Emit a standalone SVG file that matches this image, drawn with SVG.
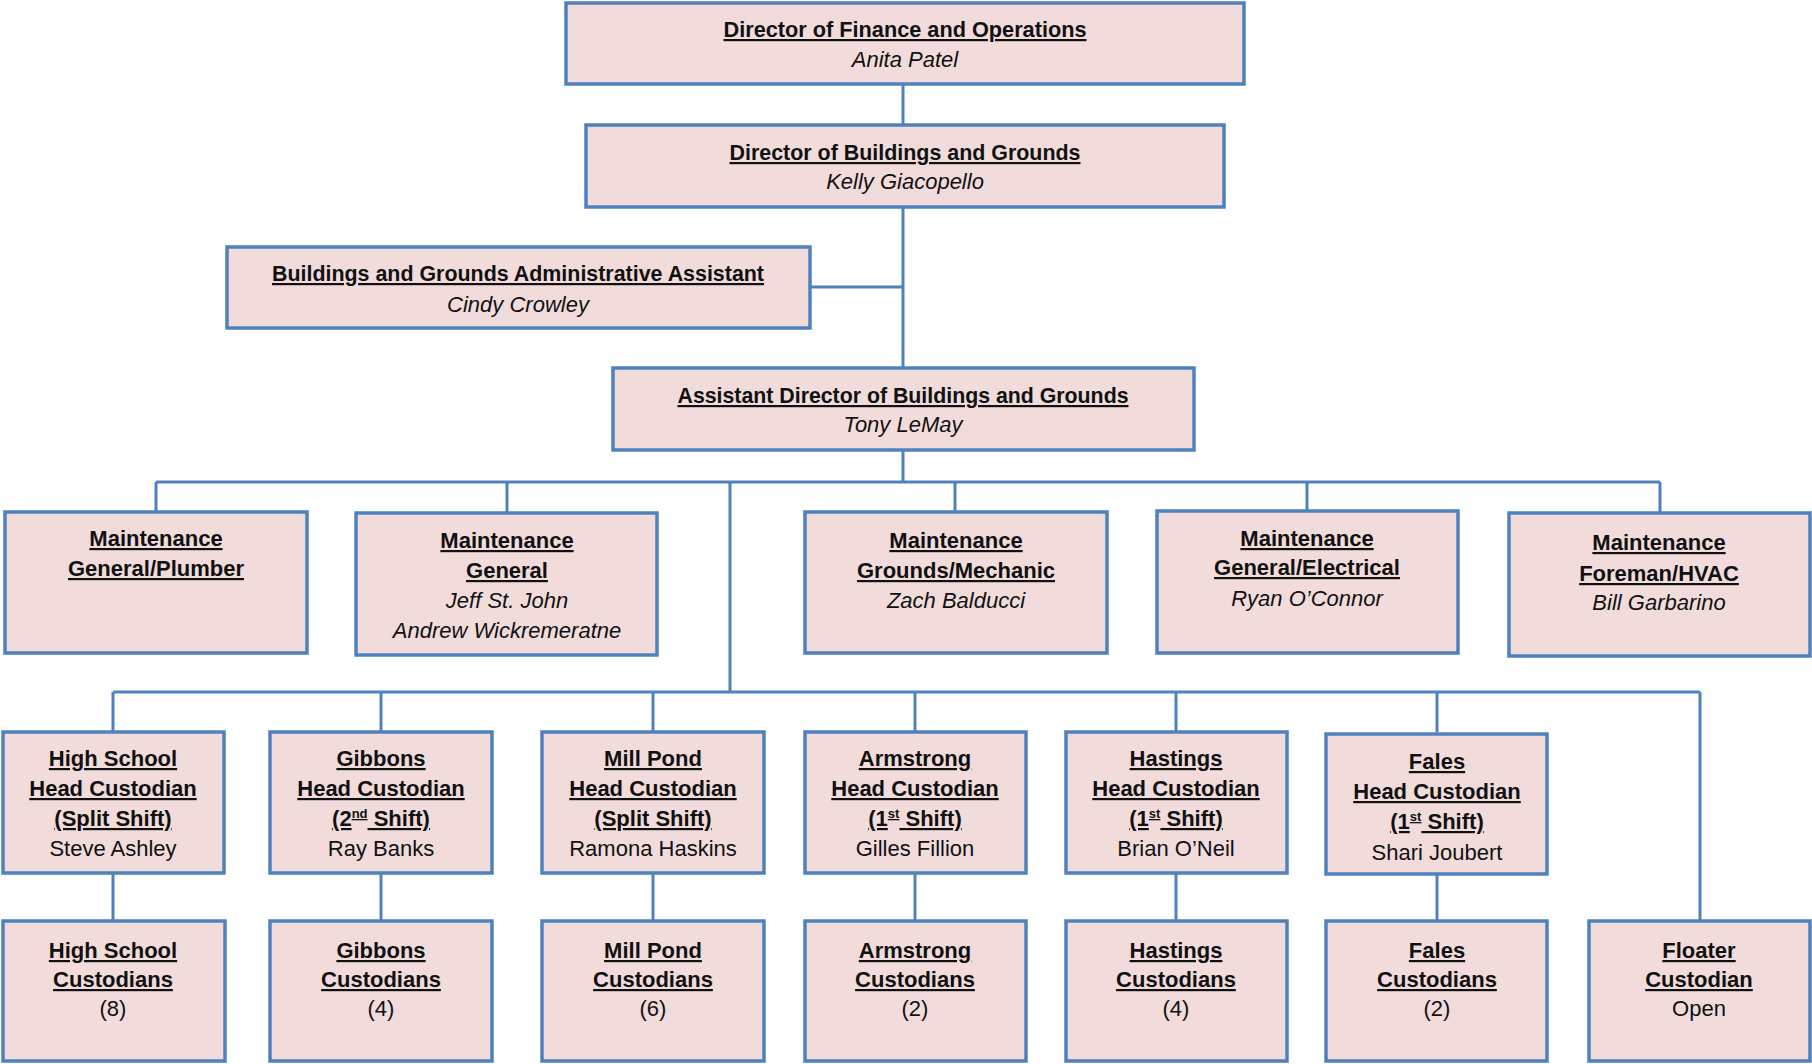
<svg xmlns="http://www.w3.org/2000/svg" width="1812" height="1064" viewBox="0 0 1812 1064">
<style>
.box{fill:#F2DCDB;stroke:#4F81BD;stroke-width:3.5}
.con{fill:none;stroke:#4F81BD;stroke-width:3}
text{font-family:"Liberation Sans",Arial,sans-serif;font-size:22px;fill:#111;text-anchor:middle}
.t{font-weight:bold;text-decoration:underline}
.n{font-style:italic}
.sup{font-size:13px}
</style>
<rect width="1812" height="1064" fill="#fff"/>
<g id="connectors">
<path class="con" d="M903,84V367M810,287H903M903,450V482M156,482H1660M156,482V512M507,482V512M955,482V512M1307,482V512M1660,482V512"/>
<path class="con" d="M730,482V692M113,692H1700M113,692V732M381,692V732M653,692V732M915,692V732M1176,692V732M1437,692V732M1700,692V921"/>
<path class="con" d="M113,873V921M381,873V921M653,873V921M915,873V921M1176,873V921M1437,873V921"/>
</g>
<g id="dir-finance"><rect class="box" x="566" y="3" width="678" height="81"/>
<text class="t" x="905" y="37" textLength="363" lengthAdjust="spacingAndGlyphs">Director of Finance and Operations</text><text class="n" x="905" y="67">Anita Patel</text></g>
<g id="dir-bg"><rect class="box" x="586" y="125" width="638" height="82"/>
<text class="t" x="905" y="160" textLength="351" lengthAdjust="spacingAndGlyphs">Director of Buildings and Grounds</text><text class="n" x="905" y="189">Kelly Giacopello</text></g>
<g id="admin"><rect class="box" x="227" y="247" width="583" height="81"/>
<text class="t" x="518" y="281" textLength="492" lengthAdjust="spacingAndGlyphs">Buildings and Grounds Administrative Assistant</text><text class="n" x="518" y="312">Cindy Crowley</text></g>
<g id="asst-dir"><rect class="box" x="613" y="368" width="581" height="82"/>
<text class="t" x="903" y="403" textLength="451" lengthAdjust="spacingAndGlyphs">Assistant Director of Buildings and Grounds</text><text class="n" x="903" y="432">Tony LeMay</text></g>

<g id="m-plumber"><rect class="box" x="5" y="512" width="302" height="141"/>
<text class="t" x="156" y="546">Maintenance</text><text class="t" x="156" y="576">General/Plumber</text></g>
<g id="m-general"><rect class="box" x="356" y="513" width="301" height="142"/>
<text class="t" x="507" y="548">Maintenance</text><text class="t" x="507" y="578">General</text><text class="n" x="507" y="608">Jeff St. John</text><text class="n" x="507" y="638">Andrew Wickremeratne</text></g>
<g id="m-grounds"><rect class="box" x="805" y="512" width="302" height="141"/>
<text class="t" x="956" y="548">Maintenance</text><text class="t" x="956" y="578">Grounds/Mechanic</text><text class="n" x="956" y="608">Zach Balducci</text></g>
<g id="m-electrical"><rect class="box" x="1157" y="511" width="301" height="142"/>
<text class="t" x="1307" y="546">Maintenance</text><text class="t" x="1307" y="575">General/Electrical</text><text class="n" x="1307" y="606">Ryan O’Connor</text></g>
<g id="m-hvac"><rect class="box" x="1509" y="513" width="301" height="143"/>
<text class="t" x="1659" y="550">Maintenance</text><text class="t" x="1659" y="581">Foreman/HVAC</text><text class="n" x="1659" y="610">Bill Garbarino</text></g>

<g id="hc-hs"><rect class="box" x="3" y="732" width="221" height="141"/>
<text class="t" x="113" y="766">High School</text><text class="t" x="113" y="796">Head Custodian</text><text class="t" x="113" y="826">(Split Shift)</text><text x="113" y="856">Steve Ashley</text></g>
<g id="hc-gibbons"><rect class="box" x="270" y="732" width="222" height="141"/>
<text class="t" x="381" y="766">Gibbons</text><text class="t" x="381" y="796">Head Custodian</text><text class="t" x="381" y="826">(2<tspan class="sup" dy="-8">nd</tspan><tspan dy="8"> Shift)</tspan></text><text x="381" y="856">Ray Banks</text></g>
<g id="hc-millpond"><rect class="box" x="542" y="732" width="222" height="141"/>
<text class="t" x="653" y="766">Mill Pond</text><text class="t" x="653" y="796">Head Custodian</text><text class="t" x="653" y="826">(Split Shift)</text><text x="653" y="856">Ramona Haskins</text></g>
<g id="hc-armstrong"><rect class="box" x="805" y="732" width="221" height="141"/>
<text class="t" x="915" y="766">Armstrong</text><text class="t" x="915" y="796">Head Custodian</text><text class="t" x="915" y="826">(1<tspan class="sup" dy="-8">st</tspan><tspan dy="8"> Shift)</tspan></text><text x="915" y="856">Gilles Fillion</text></g>
<g id="hc-hastings"><rect class="box" x="1066" y="732" width="221" height="141"/>
<text class="t" x="1176" y="766">Hastings</text><text class="t" x="1176" y="796">Head Custodian</text><text class="t" x="1176" y="826">(1<tspan class="sup" dy="-8">st</tspan><tspan dy="8"> Shift)</tspan></text><text x="1176" y="856">Brian O’Neil</text></g>
<g id="hc-fales"><rect class="box" x="1326" y="734" width="221" height="140"/>
<text class="t" x="1437" y="769">Fales</text><text class="t" x="1437" y="799">Head Custodian</text><text class="t" x="1437" y="829">(1<tspan class="sup" dy="-8">st</tspan><tspan dy="8"> Shift)</tspan></text><text x="1437" y="860">Shari Joubert</text></g>

<g id="c-hs"><rect class="box" x="3" y="921" width="222" height="140"/>
<text class="t" x="113" y="958">High School</text><text class="t" x="113" y="987">Custodians</text><text x="113" y="1016">(8)</text></g>
<g id="c-gibbons"><rect class="box" x="270" y="921" width="222" height="140"/>
<text class="t" x="381" y="958">Gibbons</text><text class="t" x="381" y="987">Custodians</text><text x="381" y="1016">(4)</text></g>
<g id="c-millpond"><rect class="box" x="542" y="921" width="222" height="140"/>
<text class="t" x="653" y="958">Mill Pond</text><text class="t" x="653" y="987">Custodians</text><text x="653" y="1016">(6)</text></g>
<g id="c-armstrong"><rect class="box" x="805" y="921" width="221" height="140"/>
<text class="t" x="915" y="958">Armstrong</text><text class="t" x="915" y="987">Custodians</text><text x="915" y="1016">(2)</text></g>
<g id="c-hastings"><rect class="box" x="1066" y="921" width="221" height="140"/>
<text class="t" x="1176" y="958">Hastings</text><text class="t" x="1176" y="987">Custodians</text><text x="1176" y="1016">(4)</text></g>
<g id="c-fales"><rect class="box" x="1326" y="921" width="221" height="140"/>
<text class="t" x="1437" y="958">Fales</text><text class="t" x="1437" y="987">Custodians</text><text x="1437" y="1016">(2)</text></g>
<g id="c-floater"><rect class="box" x="1589" y="921" width="221" height="140"/>
<text class="t" x="1699" y="958">Floater</text><text class="t" x="1699" y="987">Custodian</text><text x="1699" y="1016">Open</text></g>
</svg>
